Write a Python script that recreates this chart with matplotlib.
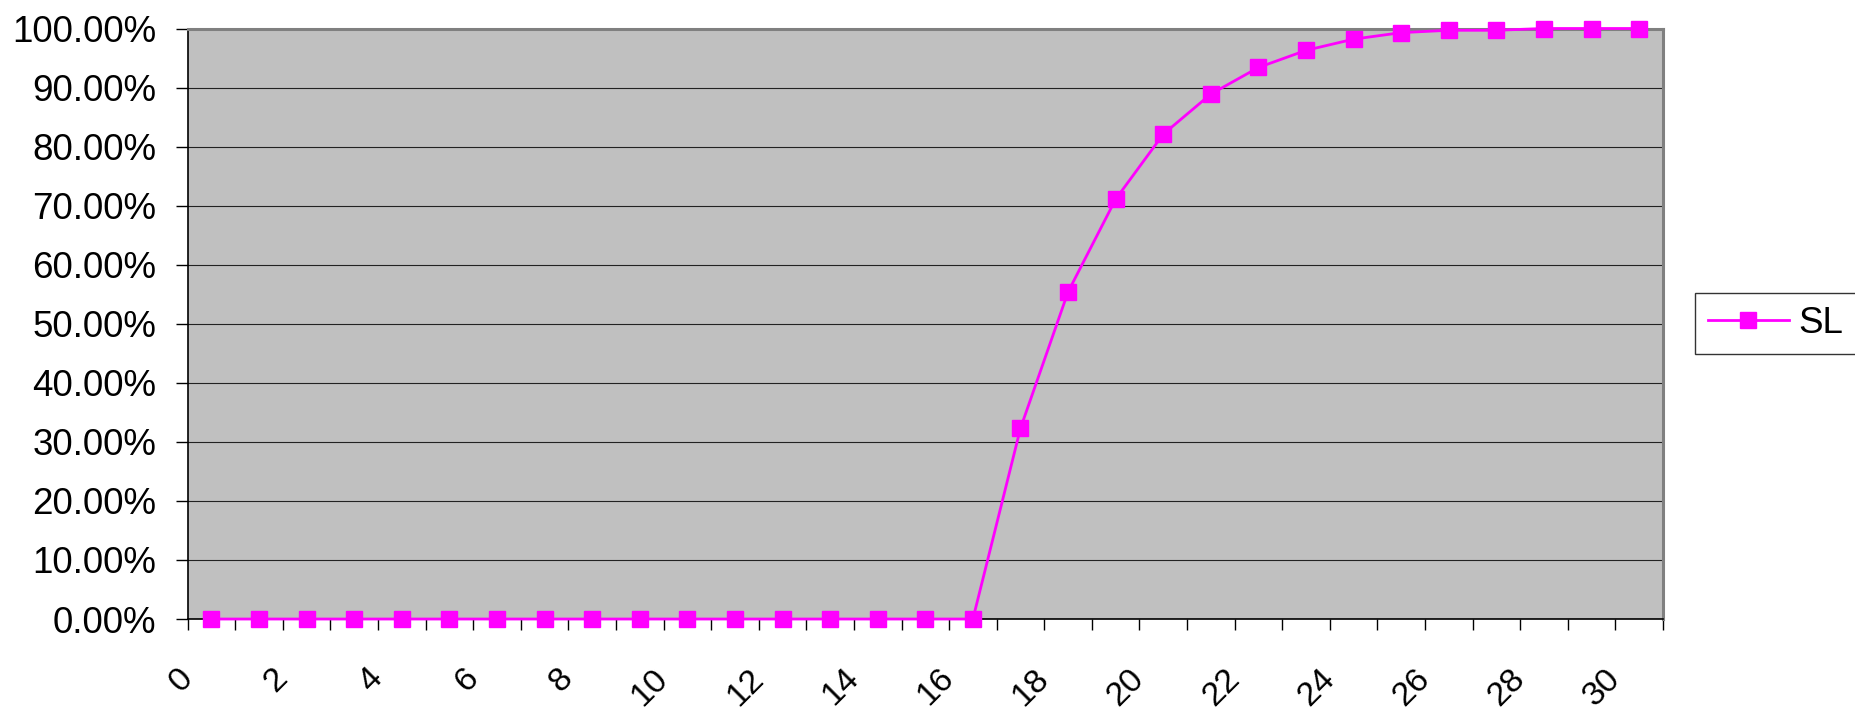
import numpy as np
import matplotlib
matplotlib.use('Agg')
import matplotlib.pyplot as plt
from matplotlib.ticker import PercentFormatter

plt.rcParams['font.family'] = ['Liberation Sans', 'DejaVu Sans']

# category values along the x axis and the SL series
sizes = list(range(31))
sl_values = [0.0, 0.0, 0.0, 0.0, 0.0, 0.0, 0.0, 0.0, 0.0, 0.0, 0.0, 0.0,
             0.0, 0.0, 0.0, 0.0, 0.0,
             0.323, 0.554, 0.711, 0.821, 0.889, 0.934, 0.963, 0.982,
             0.993, 0.997, 0.997, 1.0, 1.0, 1.0]
series_name = 'SL'

fig = plt.figure(figsize=(18.56, 7.09), dpi=100)
ax = fig.add_axes([0.1011, 0.1269, 0.7949, 0.8329])
ax.set_facecolor('#c0c0c0')

pos = np.arange(len(sizes))
ax.plot(pos, sl_values, color='#ff00ff', lw=2, marker='s', ms=12,
        mec='#ff00ff', mfc='#ff00ff', label=series_name, clip_on=False, zorder=5)

ax.set_xlim(-0.5, len(sizes) - 0.5)
ax.set_ylim(0, 1)

# y axis: percentages with two decimals, horizontal gridlines
ax.set_yticks(np.linspace(0, 1, 11))
ax.yaxis.set_major_formatter(PercentFormatter(xmax=1, decimals=2))
ax.grid(axis='y', color='#222222', lw=0.8)
ax.tick_params(axis='y', length=8.4, width=1, pad=14, labelsize=26.5)

# x axis: ticks sit between categories, every other one labelled
bounds = [i - 0.5 for i in range(len(sizes) + 1)]
labels = [str(sizes[i]) if i < len(sizes) and i % 2 == 0 else ''
          for i in range(len(sizes) + 1)]
ax.set_xticks(bounds, labels, rotation=45, ha='right', va='center',
              rotation_mode='anchor')
ax.tick_params(axis='x', length=7.9, width=1, pad=31.5, labelsize=24.5)

for side in ['top', 'right']:
    ax.spines[side].set_color('#808080')
    ax.spines[side].set_linewidth(2.2)
for side in ['left', 'bottom']:
    ax.spines[side].set_color('black')
    ax.spines[side].set_linewidth(1.2)

leg = fig.legend(loc='upper left', bbox_to_anchor=(1695 / 1856, 1 - 293 / 709),
                 borderaxespad=0, fancybox=False, edgecolor='#333333',
                 framealpha=1, handlelength=2.2, handletextpad=0.25,
                 borderpad=0.35, fontsize=26.5)
leg.get_frame().set_linewidth(1)

fig.savefig('out.png', dpi=100)
